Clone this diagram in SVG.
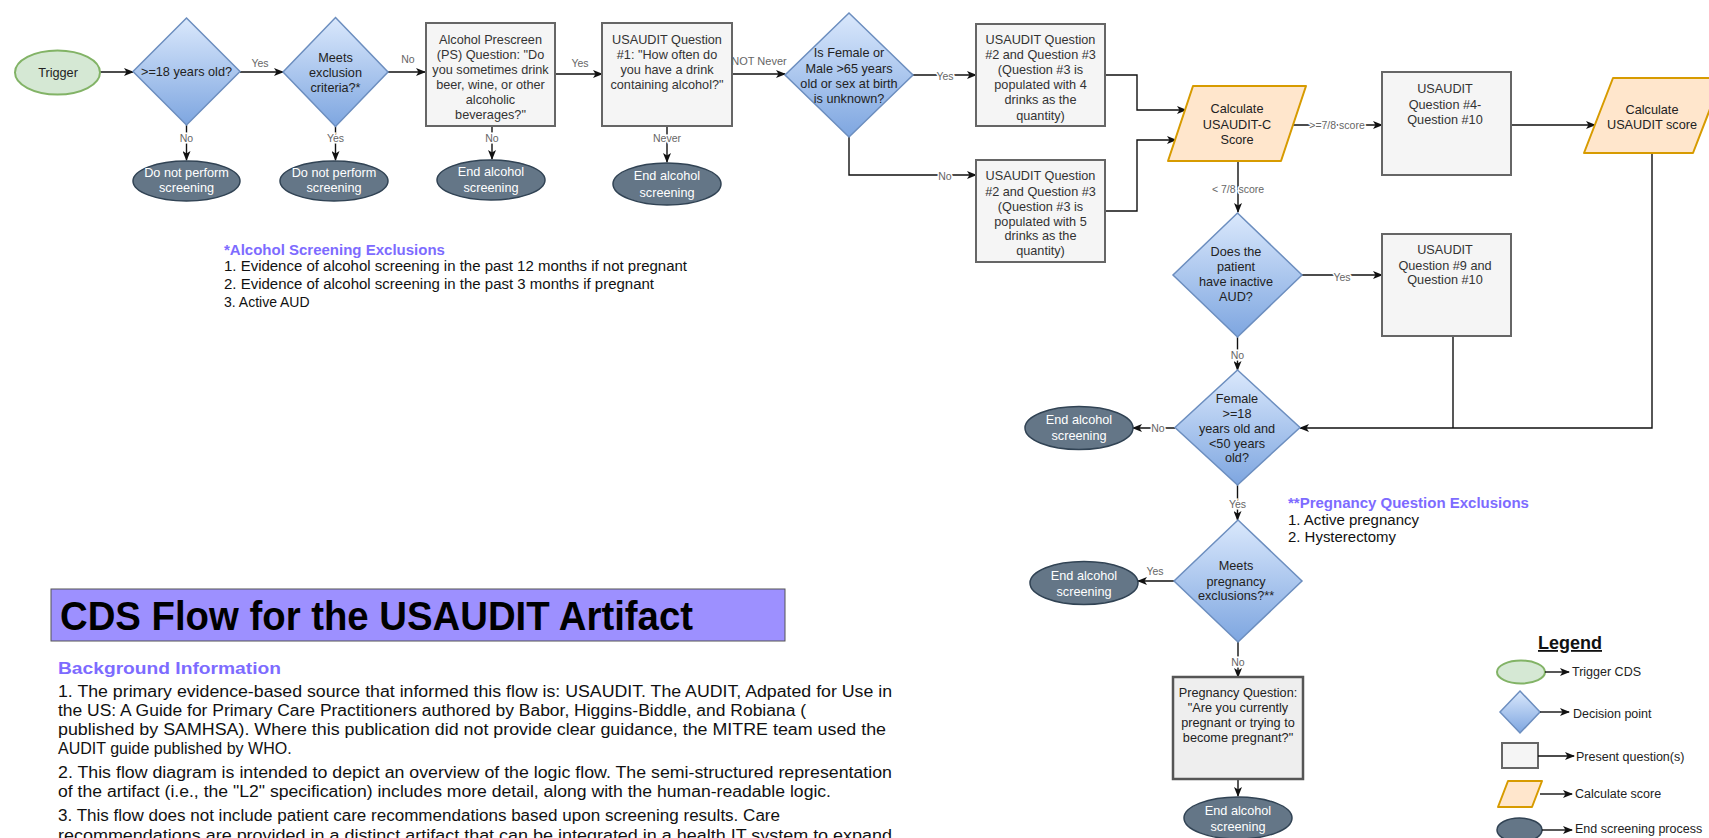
<svg xmlns="http://www.w3.org/2000/svg" width="1709" height="838" viewBox="0 0 1709 838">
<style>
text{font-family:"Liberation Sans",Arial,sans-serif;}
.nt{font-size:12.7px;fill:#222;text-anchor:middle;dominant-baseline:central;}
.qt{font-size:12.7px;fill:#333;text-anchor:middle;dominant-baseline:central;}
.et{font-size:12.7px;fill:#fff;text-anchor:middle;dominant-baseline:central;}
.lb{font-size:10.5px;fill:#666;text-anchor:middle;dominant-baseline:central;stroke:#fff;stroke-width:3px;paint-order:stroke;}
.dia{fill:url(#dg);stroke:#6c8ebf;stroke-width:1.5;}
.box{fill:#f5f5f5;stroke:#666;stroke-width:2;}
.end{fill:#647687;stroke:#314354;stroke-width:1.5;}
.calc{fill:#ffe6cc;stroke:#d79b00;stroke-width:2;stroke-linejoin:round;}
.trig{fill:#d5e8d4;stroke:#82b366;stroke-width:2;}
.con{fill:none;stroke:#111;stroke-width:1.4;}
.arr{marker-end:url(#ah);}
.hd{font-weight:bold;fill:#7d6bff;}
.bt{fill:#111;}
.lg{font-size:12.5px;fill:#222;dominant-baseline:central;}
</style>
<defs>
<linearGradient id="dg" x1="0" y1="0" x2="0" y2="1">
<stop offset="0" stop-color="#dae8fc"/>
<stop offset="1" stop-color="#7ea6e0"/>
</linearGradient>
<marker id="ah" markerWidth="10" markerHeight="8" refX="9" refY="4" orient="auto" markerUnits="userSpaceOnUse">
<path d="M0,0 L10,4 L0,8 L2.5,4 Z" fill="#111"/>
</marker>
</defs>

<g id="connectors">
<path class="con arr" d="M100,72 L133,72"/>
<path class="con arr" d="M240,72 L283,72"/>
<path class="con arr" d="M388,72 L425,72"/>
<path class="con arr" d="M186.5,125 L186.5,160"/>
<path class="con arr" d="M335.5,126 L335.5,160"/>
<path class="con arr" d="M555,74 L602,74"/>
<path class="con arr" d="M492,118 L492,159"/>
<path class="con arr" d="M667,120 L667,162"/>
<path class="con arr" d="M732,74 L785,74"/>
<path class="con arr" d="M913,75 L976,75"/>
<path class="con arr" d="M849,137 L849,175 L976,175"/>
<path class="con arr" d="M1105,75 L1137,75 L1137,110 L1186,110"/>
<path class="con arr" d="M1105,211 L1137,211 L1137,140 L1176,140"/>
<path class="con arr" d="M1293,125 L1382,125"/>
<path class="con arr" d="M1238,161 L1238,212"/>
<path class="con arr" d="M1511,125 L1595,125"/>
<path class="con arr" d="M1652,153 L1652,428 L1300,428"/>
<path class="con" d="M1453,321 L1453,428"/>
<path class="con arr" d="M1302,275 L1382,275"/>
<path class="con arr" d="M1237.5,337 L1237.5,370"/>
<path class="con arr" d="M1175,428 L1133,428"/>
<path class="con arr" d="M1237.5,485 L1237.5,520"/>
<path class="con arr" d="M1174,581 L1138,581"/>
<path class="con arr" d="M1238,642 L1238,677"/>
<path class="con arr" d="M1238,779 L1238,796"/>
<text class="lb" x="260" y="63">Yes</text>
<text class="lb" x="408" y="59">No</text>
<text class="lb" x="186.5" y="138">No</text>
<text class="lb" x="335.5" y="138">Yes</text>
<text class="lb" x="580" y="63">Yes</text>
<text class="lb" x="492" y="138">No</text>
<text class="lb" x="667" y="138">Never</text>
<text class="lb" x="759" y="61" style="font-size:11px">NOT Never</text>
<text class="lb" x="945" y="76">Yes</text>
<text class="lb" x="945" y="176">No</text>
<text class="lb" x="1337" y="125">&gt;=7/8 score</text>
<text class="lb" x="1238" y="189">&lt; 7/8 score</text>
<text class="lb" x="1342" y="277">Yes</text>
<text class="lb" x="1237.5" y="355">No</text>
<text class="lb" x="1158" y="428">No</text>
<text class="lb" x="1237.5" y="504">Yes</text>
<text class="lb" x="1155" y="571">Yes</text>
<text class="lb" x="1238" y="662">No</text>
</g>

<g id="trigger">
<ellipse class="trig" cx="57.5" cy="72.5" rx="42.5" ry="22"/>
<text class="nt" x="58" y="73">Trigger</text>
</g>
<g id="d-age">
<path class="dia" d="M186.5,18 L240,71.5 L186.5,125 L133,71.5 Z"/>
<text class="nt" x="186.5" y="72">&gt;=18 years old?</text>
</g>
<g id="d-excl">
<path class="dia" d="M335.5,17.5 L388,72 L335.5,126.5 L283,72 Z"/>
<text class="nt" x="335.5" y="58">Meets</text>
<text class="nt" x="335.5" y="73">exclusion</text>
<text class="nt" x="335.5" y="88">criteria?*</text>
</g>
<g id="end-age">
<ellipse class="end" cx="186.5" cy="181" rx="53.5" ry="20"/>
<text class="et" x="186.5" y="173">Do not perform</text>
<text class="et" x="186.5" y="188">screening</text>
</g>
<g id="end-excl">
<ellipse class="end" cx="334" cy="181" rx="54" ry="20"/>
<text class="et" x="334" y="173">Do not perform</text>
<text class="et" x="334" y="188">screening</text>
</g>
<g id="q-prescreen">
<rect class="box" x="426" y="23" width="129" height="103"/>
<text class="qt" x="490.5" y="40">Alcohol Prescreen</text>
<text class="qt" x="490.5" y="55">(PS) Question: "Do</text>
<text class="qt" x="490.5" y="70">you sometimes drink</text>
<text class="qt" x="490.5" y="85">beer, wine, or other</text>
<text class="qt" x="490.5" y="100">alcoholic</text>
<text class="qt" x="490.5" y="115">beverages?"</text>
</g>
<g id="end-prescreen">
<ellipse class="end" cx="491" cy="180" rx="54" ry="20"/>
<text class="et" x="491" y="172">End alcohol</text>
<text class="et" x="491" y="188">screening</text>
</g>
<g id="q1">
<rect class="box" x="602" y="23" width="130" height="103"/>
<text class="qt" x="667" y="40">USAUDIT Question</text>
<text class="qt" x="667" y="55">#1: "How often do</text>
<text class="qt" x="667" y="70">you have a drink</text>
<text class="qt" x="667" y="85">containing alcohol?"</text>
</g>
<g id="end-q1">
<ellipse class="end" cx="667" cy="184" rx="54" ry="21"/>
<text class="et" x="667" y="176">End alcohol</text>
<text class="et" x="667" y="193">screening</text>
</g>
<g id="d-sex">
<path class="dia" d="M849,13 L913,75 L849,137 L785,75 Z"/>
<text class="nt" x="849" y="53">Is Female or</text>
<text class="nt" x="849" y="68.5">Male &gt;65 years</text>
<text class="nt" x="849" y="83.5">old or sex at birth</text>
<text class="nt" x="849" y="98.5">is unknown?</text>
</g>
<g id="q2q3-4">
<rect class="box" x="976" y="24" width="129" height="102"/>
<text class="qt" x="1040.5" y="40">USAUDIT Question</text>
<text class="qt" x="1040.5" y="55">#2 and Question #3</text>
<text class="qt" x="1040.5" y="70">(Question #3 is</text>
<text class="qt" x="1040.5" y="85">populated with 4</text>
<text class="qt" x="1040.5" y="100">drinks as the</text>
<text class="qt" x="1040.5" y="115.5">quantity)</text>
</g>
<g id="q2q3-5">
<rect class="box" x="976" y="160" width="129" height="102"/>
<text class="qt" x="1040.5" y="176">USAUDIT Question</text>
<text class="qt" x="1040.5" y="191.5">#2 and Question #3</text>
<text class="qt" x="1040.5" y="206.5">(Question #3 is</text>
<text class="qt" x="1040.5" y="221.5">populated with 5</text>
<text class="qt" x="1040.5" y="236">drinks as the</text>
<text class="qt" x="1040.5" y="251">quantity)</text>
</g>
<g id="calc-c">
<path class="calc" d="M1193,86 L1306,86 L1281,161 L1168,161 Z"/>
<text class="nt" x="1237" y="109">Calculate</text>
<text class="nt" x="1237" y="125">USAUDIT-C</text>
<text class="nt" x="1237" y="140">Score</text>
</g>
<g id="q4-10">
<rect class="box" x="1382" y="72" width="129" height="103"/>
<text class="qt" x="1445" y="89">USAUDIT</text>
<text class="qt" x="1445" y="105">Question #4-</text>
<text class="qt" x="1445" y="120">Question #10</text>
</g>
<g id="calc-full">
<path class="calc" d="M1613,78 L1722,78 L1693,153 L1584,153 Z"/>
<text class="nt" x="1652" y="110">Calculate</text>
<text class="nt" x="1652" y="125">USAUDIT score</text>
</g>
<g id="d-aud">
<path class="dia" d="M1237.5,213 L1302,275 L1237.5,337 L1173,275 Z"/>
<text class="nt" x="1236" y="252">Does the</text>
<text class="nt" x="1236" y="267">patient</text>
<text class="nt" x="1236" y="282">have inactive</text>
<text class="nt" x="1236" y="297">AUD?</text>
</g>
<g id="q9-10">
<rect class="box" x="1382" y="234" width="129" height="102"/>
<text class="qt" x="1445" y="250">USAUDIT</text>
<text class="qt" x="1445" y="266">Question #9 and</text>
<text class="qt" x="1445" y="280">Question #10</text>
</g>
<g id="d-female">
<path class="dia" d="M1237.5,370 L1300,427.5 L1237.5,485 L1175,427.5 Z"/>
<text class="nt" x="1237" y="399">Female</text>
<text class="nt" x="1237" y="413.5">&gt;=18</text>
<text class="nt" x="1237" y="428.5">years old and</text>
<text class="nt" x="1237" y="444">&lt;50 years</text>
<text class="nt" x="1237" y="458">old?</text>
</g>
<g id="end-female">
<ellipse class="end" cx="1079" cy="428" rx="54" ry="21.5"/>
<text class="et" x="1079" y="420">End alcohol</text>
<text class="et" x="1079" y="436">screening</text>
</g>
<g id="d-preg">
<path class="dia" d="M1238,520 L1302,581 L1238,642 L1174,581 Z"/>
<text class="nt" x="1236" y="566">Meets</text>
<text class="nt" x="1236" y="582">pregnancy</text>
<text class="nt" x="1236" y="596">exclusions?**</text>
</g>
<g id="end-preg">
<ellipse class="end" cx="1084" cy="583" rx="54" ry="21.5"/>
<text class="et" x="1084" y="576">End alcohol</text>
<text class="et" x="1084" y="592">screening</text>
</g>
<g id="q-preg">
<rect x="1173" y="677" width="130" height="102" fill="#eeeeee" stroke="#555" stroke-width="2.5"/>
<text class="nt" x="1238" y="693">Pregnancy Question:</text>
<text class="nt" x="1238" y="708">"Are you currently</text>
<text class="nt" x="1238" y="723">pregnant or trying to</text>
<text class="nt" x="1238" y="738">become pregnant?"</text>
</g>
<g id="end-final">
<ellipse class="end" cx="1238" cy="818" rx="54" ry="21"/>
<text class="et" x="1238" y="811">End alcohol</text>
<text class="et" x="1238" y="827">screening</text>
</g>

<g id="alcohol-exclusions">
<text class="hd" x="224" y="255" font-size="15">*Alcohol Screening Exclusions</text>
<text class="bt" x="224" y="271" font-size="14" textLength="463" lengthAdjust="spacingAndGlyphs">1. Evidence of alcohol screening in the past 12 months if not pregnant</text>
<text class="bt" x="224" y="289" font-size="14" textLength="430" lengthAdjust="spacingAndGlyphs">2. Evidence of alcohol screening in the past 3 months if pregnant</text>
<text class="bt" x="224" y="307" font-size="14">3. Active AUD</text>
</g>
<g id="pregnancy-exclusions">
<text class="hd" x="1288" y="508" font-size="15">**Pregnancy Question Exclusions</text>
<text class="bt" x="1288" y="525" font-size="14" textLength="131" lengthAdjust="spacingAndGlyphs">1. Active pregnancy</text>
<text class="bt" x="1288" y="542" font-size="14" textLength="108" lengthAdjust="spacingAndGlyphs">2. Hysterectomy</text>
</g>

<g id="title">
<rect x="51" y="589" width="734" height="52" fill="#9d90ff" stroke="#555" stroke-width="1"/>
<text x="60" y="630" font-size="40" font-weight="bold" fill="#000" textLength="633" lengthAdjust="spacingAndGlyphs">CDS Flow for the USAUDIT Artifact</text>
</g>
<g id="background">
<text class="hd" x="58" y="674" font-size="17" textLength="223" lengthAdjust="spacingAndGlyphs">Background Information</text>
<text class="bt" x="58" y="697" font-size="16" textLength="834" lengthAdjust="spacingAndGlyphs">1. The primary evidence-based source that informed this flow is: USAUDIT. The AUDIT, Adpated for Use in</text>
<text class="bt" x="58" y="716" font-size="16" textLength="748" lengthAdjust="spacingAndGlyphs">the US: A Guide for Primary Care Practitioners authored by Babor, Higgins-Biddle, and Robiana (</text>
<text class="bt" x="58" y="735" font-size="16" textLength="828" lengthAdjust="spacingAndGlyphs">published by SAMHSA). Where this publication did not provide clear guidance, the MITRE team used the</text>
<text class="bt" x="58" y="754" font-size="16">AUDIT guide published by WHO.</text>
<text class="bt" x="58" y="778" font-size="16" textLength="834" lengthAdjust="spacingAndGlyphs">2. This flow diagram is intended to depict an overview of the logic flow. The semi-structured representation</text>
<text class="bt" x="58" y="797" font-size="16" textLength="773" lengthAdjust="spacingAndGlyphs">of the artifact (i.e., the "L2" specification) includes more detail, along with the human-readable logic.</text>
<text class="bt" x="58" y="821" font-size="16" textLength="722" lengthAdjust="spacingAndGlyphs">3. This flow does not include patient care recommendations based upon screening results. Care</text>
<text class="bt" x="58" y="841" font-size="16" textLength="834" lengthAdjust="spacingAndGlyphs">recommendations are provided in a distinct artifact that can be integrated in a health IT system to expand</text>
</g>

<g id="legend">
<text x="1570" y="649" font-size="18" font-weight="bold" fill="#111" text-anchor="middle" text-decoration="underline">Legend</text>
<ellipse class="trig" cx="1521" cy="672" rx="24" ry="11.5"/>
<path class="con arr" d="M1545,672 L1569,672"/>
<text class="lg" x="1572" y="672">Trigger CDS</text>
<path class="dia" d="M1520,691 L1540,712 L1520,733 L1500,712 Z"/>
<path class="con arr" d="M1540,712 L1569,712"/>
<text class="lg" x="1573" y="714">Decision point</text>
<rect class="box" x="1502" y="743" width="36" height="25"/>
<path class="con arr" d="M1538,756 L1574,756"/>
<text class="lg" x="1576" y="757">Present question(s)</text>
<path class="calc" d="M1508,781 L1542,781 L1532,807 L1498,807 Z"/>
<path class="con arr" d="M1540,794 L1572,794"/>
<text class="lg" x="1575" y="794">Calculate score</text>
<ellipse class="end" cx="1519.5" cy="830" rx="22.5" ry="12"/>
<path class="con arr" d="M1542,830 L1572,830"/>
<text class="lg" x="1575" y="829">End screening process</text>
</g>
</svg>
